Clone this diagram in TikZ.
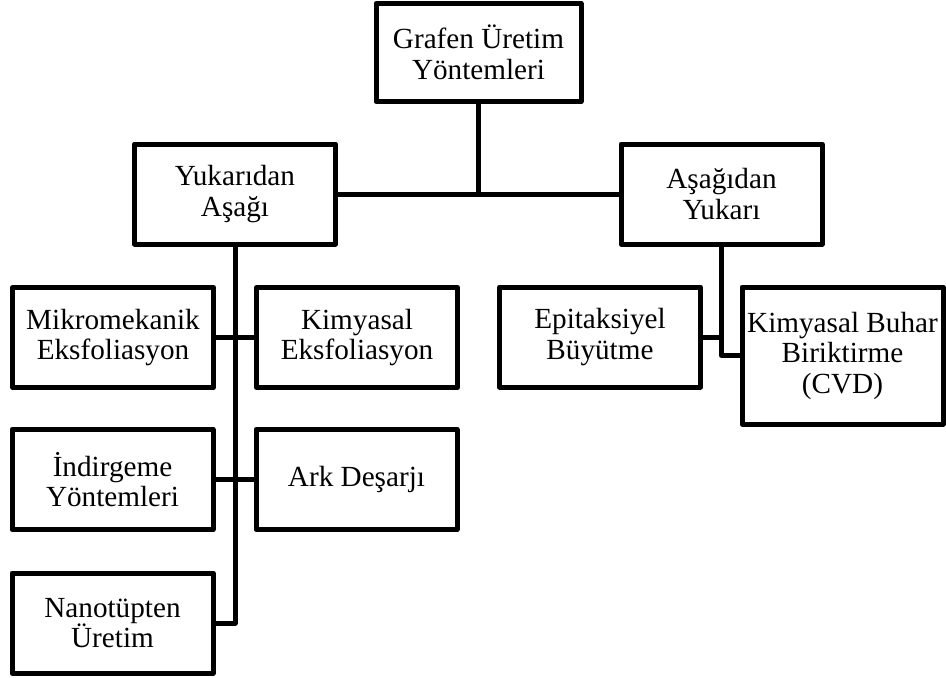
\documentclass[tikz,border=0pt]{standalone}
\usepackage{fontspec}
\setmainfont{Liberation Serif}
\begin{document}
\begin{tikzpicture}[x=1pt,y=-1pt,
  box/.style={draw, line width=5pt, line join=round, rectangle,
    minimum width=201pt, minimum height=100pt, inner sep=2pt,
    align=center, font=\fontsize{29.2}{30.5}\selectfont},
  link/.style={line width=5pt, line join=round}]
\useasboundingbox (0,0) rectangle (946,678);

% root
\node[box, minimum width=205pt, minimum height=98pt] (root) at (478.5,52.5) {Grafen Üretim\\Yöntemleri};

% two main approaches
\node[box] (td) at (235,194) {Yukarıdan\\Aşağı};
\node[box] (bu) at (721.5,194) {Aşağıdan\\Yukarı};

% top-down methods
\node[box] (mikro) at (113,337.5) {Mikromekanik\\Eksfoliasyon};
\node[box] (kimeks) at (357,337.5) {Kimyasal\\Eksfoliasyon};
\node[box] (indir) at (112.5,479.5) {İndirgeme\\Yöntemleri};
\node[box] (ark) at (356.5,479.5) {Ark Deşarjı};
\node[box] (nano) at (112.5,623) {Nanotüpten\\Üretim};

% bottom-up methods
\node[box] (epi) at (600,337) {Epitaksiyel\\Büyütme};
\node[box, minimum height=137pt] (cvd) at (842.5,355.5) {Kimyasal Buhar\\Biriktirme\\(CVD)};

% connectors
\draw[link] (td.east) -- (bu.west);
\draw[link] (root.south) -- (root.south |- td.east);

\draw[link] (td.south) -- (td.south |- nano.east) -- (nano.east);
\draw[link] (mikro.east) -- (kimeks.west);
\draw[link] (indir.east) -- (ark.west);

\draw[link] (bu.south) -- (bu.south |- cvd.west) -- (cvd.west);
\draw[link] (epi.east) -- (epi.east -| bu.south);
\end{tikzpicture}
\end{document}
